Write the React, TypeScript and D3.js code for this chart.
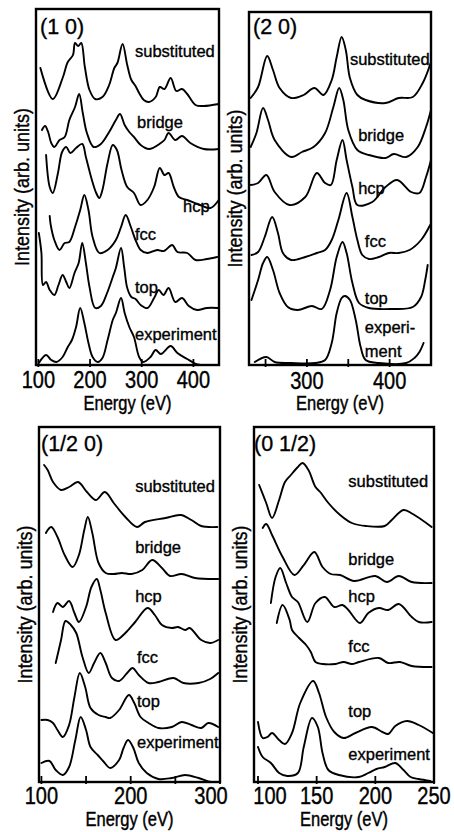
import React from 'react';
import * as d3 from 'd3';

type Pt = [number, number];

// ---------- data: [energy (eV), intensity (arb. units, incl. vertical offset)] ----------
// (1 0)
const p10Substituted: Pt[] = [[104,297],[128,266],[147,287],[157,303],[167,310],[171,322],[177,319],[183,322],[190,298],[199,275],[210,266],[224,268],[237,280],[247,297],[253,302],[263,321],[272,300],[280,285],[288,279],[295,272],[304,265],[314,263],[327,268],[335,278],[344,276],[356,287],[367,274],[378,276],[388,271],[404,260],[420,259],[449,261]];
const p10Bridge: Pt[] = [[107,235],[113,239],[119,233],[125,222],[131,218],[141,225],[151,228],[160,245],[171,258],[179,271],[186,252],[194,232],[207,218],[221,221],[237,233],[250,245],[258,251],[267,240],[276,233],[285,228],[298,220],[314,216],[337,222],[344,225],[352,232],[365,225],[378,229],[394,222],[420,216],[449,216]];
const p10Hcp: Pt[] = [[115,210],[122,178],[128,172],[138,192],[146,213],[154,218],[162,212],[173,217],[185,221],[192,208],[202,188],[212,172],[218,167],[224,175],[234,202],[244,220],[252,215],[261,195],[272,178],[285,172],[298,160],[311,165],[324,178],[335,197],[344,190],[352,192],[362,178],[372,168],[388,165],[413,160],[433,157],[449,165]];
const p10Fcc: Pt[] = [[122,149],[124,140],[131,125],[141,115],[151,122],[160,123],[171,138],[181,155],[189,170],[197,155],[205,128],[218,112],[234,115],[250,125],[260,138],[269,150],[279,138],[288,125],[298,115],[311,112],[330,115],[343,114],[359,120],[369,113],[388,112],[404,105],[426,106],[446,108]];
const p10Top: Pt[] = [[101,132],[106,112],[109,80],[115,83],[122,75],[131,70],[139,80],[147,90],[154,83],[160,77],[170,92],[178,102],[185,122],[192,102],[199,78],[210,57],[221,59],[233,72],[244,88],[250,97],[260,117],[266,98],[272,77],[280,68],[288,66],[298,60],[311,57],[324,67],[333,75],[342,70],[352,77],[365,63],[378,67],[391,59],[407,55],[426,57],[447,57]];
const p10Experiment: Pt[] = [[101,2],[115,10],[125,5],[135,3],[147,8],[157,18],[165,25],[173,38],[181,57],[189,42],[197,22],[205,8],[215,3],[224,7],[234,25],[244,45],[250,52],[260,67],[267,52],[276,38],[285,28],[295,8],[303,3],[317,8],[327,15],[337,11],[356,19],[369,12],[388,6],[401,2],[413,0]];

// (2 0)
const p20Substituted: Pt[] = [[232,267],[241,278],[252,309],[259,295],[267,277],[281,267],[296,270],[309,277],[320,270],[330,285],[336,308],[342,328],[347,315],[352,287],[361,270],[371,265],[395,262],[411,267],[428,268],[440,282],[450,303]];
const p20Bridge: Pt[] = [[232,218],[239,232],[247,257],[253,245],[261,225],[281,208],[294,213],[308,218],[322,232],[332,258],[339,277],[344,265],[350,235],[361,215],[375,210],[395,207],[405,211],[420,208],[434,218],[444,238],[450,255]];
const p20Hcp: Pt[] = [[232,180],[241,182],[251,190],[261,173],[279,160],[298,168],[312,192],[322,182],[329,180],[336,205],[343,225],[348,205],[355,178],[361,160],[379,163],[395,178],[409,185],[426,173],[436,172],[444,188],[450,205]];
const p20Fcc: Pt[] = [[233,110],[241,113],[249,128],[258,148],[265,132],[271,112],[281,105],[298,108],[312,112],[322,115],[330,125],[338,145],[348,172],[355,148],[361,125],[367,110],[375,106],[387,108],[399,112],[411,112],[424,115],[438,125],[449,140]];
const p20Top: Pt[] = [[233,65],[241,85],[247,102],[252,108],[259,95],[267,72],[277,58],[289,55],[306,59],[318,56],[328,75],[336,108],[343,123],[348,112],[355,82],[363,62],[375,57],[403,56],[428,58],[438,68],[443,85],[446,100]];
const p20Experiment: Pt[] = [[237,3],[251,8],[261,3],[281,2],[310,2],[322,5],[330,22],[336,52],[342,67],[346,69],[352,65],[359,45],[365,18],[371,5],[387,2],[420,2],[430,7],[436,13],[441,22]];

// (1/2 0)
const p120Substituted: Pt[] = [[103,317],[107,312],[113,300],[122,292],[131,295],[141,300],[151,290],[161,282],[171,290],[181,279],[194,265],[207,255],[216,260],[239,264],[256,267],[268,262],[279,256],[297,255]];
const p120Bridge: Pt[] = [[105,249],[111,255],[118,245],[126,227],[135,215],[142,227],[148,252],[152,265],[157,249],[164,219],[172,209],[181,208],[190,209],[201,208],[213,212],[224,222],[235,214],[244,206],[257,208],[272,204],[298,203]];
const p120Hcp: Pt[] = [[113,170],[118,179],[124,175],[131,181],[137,169],[142,160],[150,175],[156,195],[162,203],[166,192],[172,169],[183,142],[194,149],[205,160],[219,174],[227,167],[235,157],[246,154],[253,155],[261,152],[266,154],[279,142],[289,139],[298,142]];
const p120Fcc: Pt[] = [[116,119],[122,142],[127,161],[133,157],[139,149],[146,125],[153,109],[159,119],[166,129],[172,119],[179,104],[187,101],[196,109],[202,114],[209,107],[220,99],[231,100],[248,104],[259,99],[276,99],[289,103],[298,109]];
const p120Top: Pt[] = [[100,62],[107,62],[113,59],[118,52],[124,45],[131,57],[137,85],[143,109],[149,95],[155,74],[164,67],[172,65],[177,64],[187,72],[198,87],[204,79],[211,65],[220,59],[231,54],[246,55],[257,60],[268,57],[279,54],[287,59],[298,55]];
const p120Experiment: Pt[] = [[100,19],[109,21],[116,12],[124,7],[131,15],[138,42],[144,65],[150,52],[155,35],[163,27],[170,20],[177,14],[187,22],[192,34],[197,42],[203,34],[209,19],[218,9],[231,3],[246,4],[261,7],[276,4],[290,0],[298,0]];

// (0 1/2)
const p012Substituted: Pt[] = [[101,297],[107,279],[112,264],[118,282],[123,300],[128,307],[134,315],[138,319],[143,312],[149,295],[153,290],[160,279],[170,267],[180,259],[192,256],[208,256],[214,262],[224,272],[232,268],[248,255]];
const p012Bridge: Pt[] = [[104,254],[107,258],[112,247],[121,225],[131,207],[139,217],[148,230],[155,215],[162,208],[170,207],[182,201],[200,206],[210,200],[220,206],[231,200],[248,199]];
const p012Hcp: Pt[] = [[111,179],[115,205],[119,214],[124,199],[129,185],[134,180],[142,160],[149,179],[157,185],[165,175],[172,177],[177,172],[187,159],[194,169],[203,174],[211,172],[220,178],[231,165],[237,160],[248,160]];
const p012Fcc: Pt[] = [[116,159],[121,177],[127,162],[129,152],[135,144],[141,137],[145,130],[149,120],[155,118],[166,118],[173,120],[180,118],[186,120],[203,124],[211,119],[221,120],[231,116],[248,115]];
const p012Top: Pt[] = [[100,60],[104,44],[108,45],[112,49],[118,42],[123,38],[129,49],[136,79],[147,101],[152,89],[158,65],[165,50],[173,44],[183,49],[197,55],[206,50],[211,48],[217,56],[227,61],[237,57],[249,49]];
const p012Experiment: Pt[] = [[100,35],[104,25],[111,19],[118,9],[125,6],[134,9],[139,35],[146,64],[151,55],[155,29],[160,12],[169,7],[186,5],[194,9],[201,13],[208,15],[217,19],[224,12],[230,5],[237,3],[247,1]];

const curveNames = ['substituted', 'bridge', 'hcp', 'fcc', 'top', 'experiment'];
const panelTitles = ['(1 0)', '(2 0)', '(1/2 0)', '(0 1/2)'];
const ticks10 = [100, 200, 300, 400];
const ticks20 = [250, 300, 350, 400];
const tickLabels20 = [300, 400];
const ticks120 = [100, 150, 200, 250, 300];
const tickLabels120 = [100, 200, 300];
const ticks012 = [100, 150, 200, 250];
const xTitle = 'Energy (eV)';
const yTitle = 'Intensity (arb. units)';

// ---------- layout ----------
interface Panel {
  title: string;
  left: number; right: number; top: number; bottom: number;
  domain: [number, number];
  ticks: number[];
  tickLabels: number[];
  tickLabelShift: Record<number, number>;
  series: Pt[][];
  labelAt: Pt[];
  titleX: number; titleY: number;
  tickLabelY: number; xTitleY: number;
}

const panels: Panel[] = [
  {
    title: panelTitles[0], left: 36, right: 219, top: 9, bottom: 365,
    domain: [95.5, 449.5], ticks: ticks10, tickLabels: ticks10, tickLabelShift: {},
    series: [p10Substituted, p10Bridge, p10Hcp, p10Fcc, p10Top, p10Experiment],
    labelAt: [[287, 308], [291, 237], [380, 153], [287, 125], [287, 72], [287, 25]],
    titleX: 40, titleY: 34, tickLabelY: 388, xTitleY: 410,
  },
  {
    title: panelTitles[1], left: 249, right: 431, top: 12, bottom: 365,
    domain: [230, 450], ticks: ticks20, tickLabels: tickLabels20, tickLabelShift: {},
    series: [p20Substituted, p20Bridge, p20Hcp, p20Fcc, p20Top, p20Experiment],
    labelAt: [[352, 300], [362, 224], [362, 171], [370, 118], [370, 61], [370, 32]],
    titleX: 253, titleY: 34, tickLabelY: 389, xTitleY: 410,
  },
  {
    title: panelTitles[2], left: 39, right: 220, top: 427, bottom: 782,
    domain: [97.3, 300], ticks: ticks120, tickLabels: tickLabels120, tickLabelShift: { 300: -9 },
    series: [p120Substituted, p120Bridge, p120Hcp, p120Fcc, p120Top, p120Experiment],
    labelAt: [[205, 290], [205, 229], [205, 180], [207, 119], [207, 75], [207, 34]],
    titleX: 41, titleY: 451, tickLabelY: 804, xTitleY: 826,
  },
  {
    title: panelTitles[3], left: 254, right: 434, top: 427, bottom: 782,
    domain: [96.6, 250], ticks: ticks012, tickLabels: ticks012, tickLabelShift: { 100: 12 },
    series: [p012Substituted, p012Bridge, p012Hcp, p012Fcc, p012Top, p012Experiment],
    labelAt: [[177, 295], [177, 217], [177, 180], [177, 130], [177, 65], [177, 22]],
    titleX: 254, titleY: 451, tickLabelY: 804, xTitleY: 826,
  },
];

const FONT = '"Liberation Sans", Arial, Helvetica, sans-serif';
const textStyle = { fontFamily: FONT, fill: '#000', stroke: '#000', strokeWidth: 0.35 } as const;

function PanelView({ p, idx }: { p: Panel; idx: number }) {
  const x = d3.scaleLinear().domain(p.domain).range([p.left, p.right]);
  const y = d3.scaleLinear().domain([0, p.bottom - p.top]).range([p.bottom, p.top]);
  const line = d3.line<Pt>().x(d => x(d[0])).y(d => y(d[1])).curve(d3.curveCatmullRom.alpha(0.5));
  const clipId = `clip${idx}`;
  const cx = (p.left + p.right) / 2;
  const cy = (p.top + p.bottom) / 2;
  return (
    <g>
      <defs>
        <clipPath id={clipId}>
          <rect x={p.left} y={p.top} width={p.right - p.left} height={p.bottom - p.top} />
        </clipPath>
      </defs>
      <g clipPath={`url(#${clipId})`}>
        {p.series.map((s, i) => (
          <path key={i} d={line(s) || ''} fill="none" stroke="#000" strokeWidth={1.9} strokeLinejoin="round" strokeLinecap="round" />
        ))}
      </g>
      <rect x={p.left} y={p.top} width={p.right - p.left} height={p.bottom - p.top} fill="none" stroke="#000" strokeWidth={2.4} />
      {p.ticks.map(t => (
        <line key={t} x1={x(t)} x2={x(t)} y1={p.bottom + 2} y2={p.bottom - 6} stroke="#000" strokeWidth={1.8} />
      ))}
      {p.tickLabels.map(t => (
        <text key={t} transform={`translate(${x(t) + (p.tickLabelShift[t] || 0)},${p.tickLabelY}) scale(1,1.15)`} textAnchor="middle" fontSize={20} style={textStyle}>{t}</text>
      ))}
      <text transform={`translate(${cx},${p.xTitleY}) scale(1,1.22)`} textAnchor="middle" fontSize={16.5} style={textStyle}>{xTitle}</text>
      <text transform={`translate(${p.left - 7},${cy}) rotate(-90) scale(1,1.1)`} textAnchor="middle" fontSize={18} style={textStyle}>{yTitle}</text>
      <text x={p.titleX} y={p.titleY} fontSize={21.5} style={textStyle}>{p.title}</text>
      {curveNames.map((n, i) => {
        const [e, h] = p.labelAt[i];
        if (idx === 1 && n === 'experiment') {
          return (
            <g key={n}>
              <text x={x(e)} y={y(h)} fontSize={16.5} style={textStyle}>experi-</text>
              <text x={x(e)} y={y(h) + 24} fontSize={16.5} style={textStyle}>ment</text>
            </g>
          );
        }
        return (
          <text key={n} x={x(e)} y={y(h)} fontSize={16.5} style={textStyle}>{n}</text>
        );
      })}
    </g>
  );
}

export default function App() {
  return (
    <svg width={454} height={832} viewBox="0 0 454 832" style={{ position: 'absolute', left: 0, top: 0, background: '#fff' }}>
      <rect x={0} y={0} width={454} height={832} fill="#fff" />
      {panels.map((p, i) => <PanelView key={i} p={p} idx={i} />)}
    </svg>
  );
}
